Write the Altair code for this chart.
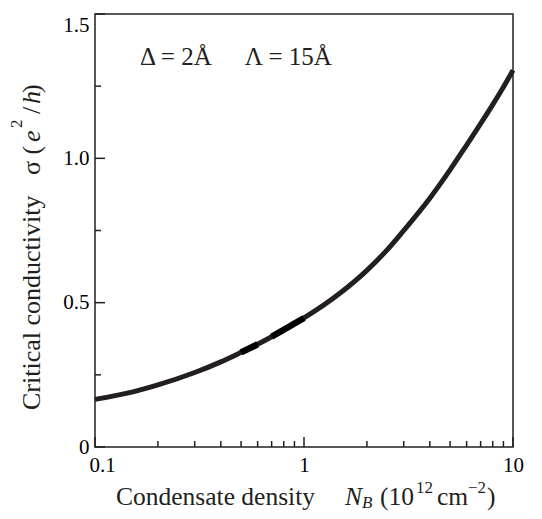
import altair as alt
import pandas as pd

# ---------------- data ----------------
density = [0.1, 0.15, 0.2, 0.3, 0.4, 0.5, 0.6, 0.7, 0.8, 1.0,
           1.5, 2.0, 2.5, 3.0, 4.0, 5.0, 6.0, 7.0, 8.0, 9.0, 10.0]
sigma = [0.165, 0.19, 0.215, 0.258, 0.295, 0.328, 0.356, 0.382, 0.406, 0.447,
         0.535, 0.612, 0.683, 0.75, 0.862, 0.96, 1.046, 1.12, 1.186, 1.247, 1.305]
thick_ranges = [(0.5, 0.6), (0.7, 1.0)]

x_major = [0.1, 1, 10]
x_minor = [0.2, 0.3, 0.4, 0.5, 0.6, 0.7, 0.8, 0.9, 2, 3, 4, 5, 6, 7, 8, 9]
y_major = [0, 0.5, 1.0, 1.5]
y_minor = [0.25, 0.75, 1.25]

annot_text = ["Δ = 2Å", "Λ = 15Å"]
annot_x = [0.164, 0.52]
annot_y = [1.323, 1.323]

# ---------------- styling ----------------
FONT = "Liberation Serif, Times New Roman, serif"
INK = "#231f20"
W, H = 418, 433

df = pd.DataFrame({"density": density, "sigma": sigma})
thick_rows = []
for i, (lo, hi) in enumerate(thick_ranges):
    for d, s in zip(density, sigma):
        if lo <= d <= hi:
            thick_rows.append({"density": d, "sigma": s, "seg": i})
df_thick = pd.DataFrame(thick_rows)

xs = alt.Scale(type="log", domain=[0.1, 10], nice=False)
ys = alt.Scale(domain=[0, 1.5], nice=False)

x_axis = alt.Axis(values=x_major, format="~g", title=None, ticks=False, domain=False,
                  grid=False, labelFont=FONT, labelFontSize=21, labelColor="black",
                  labelPadding=7, labelFlush=False, labelOverlap=False,
                  labelOffset={"condition": {"test": "datum.value < 0.5", "value": 7},
                               "value": 0})
y_axis = alt.Axis(values=y_major, title=None, ticks=False, domain=False, grid=False,
                  labelExpr="datum.value == 0 ? '0' : format(datum.value, '.1f')",
                  labelFont=FONT, labelFontSize=21, labelColor="black",
                  labelPadding=6, labelFlush=False, labelOverlap=False,
                  labelBaseline={"condition": {"test": "datum.value > 1.4", "value": "top"},
                                 "value": "middle"})

X = lambda f: alt.X(f, scale=xs, axis=x_axis)
Y = lambda f: alt.Y(f, scale=ys, axis=y_axis)

line = alt.Chart(df).mark_line(color=INK, strokeWidth=5, interpolate="monotone").encode(
    x=X("density:Q"), y=Y("sigma:Q"))
thick = alt.Chart(df_thick).mark_line(color="black", strokeWidth=6.5,
                                      interpolate="monotone").encode(
    x=X("density:Q"), y=Y("sigma:Q"), detail="seg:N")

def xticks(vals, length):
    return alt.Chart(pd.DataFrame({"density": vals})).mark_rule(
        color=INK, strokeWidth=1.5).encode(
        x=X("density:Q"), y=alt.value(H), y2=alt.value(H - length))

def yticks(vals, length):
    return alt.Chart(pd.DataFrame({"sigma": vals})).mark_rule(
        color=INK, strokeWidth=1.5).encode(
        y=Y("sigma:Q"), x=alt.value(0), x2=alt.value(length))

annot = alt.Chart(pd.DataFrame({"t": annot_text, "density": annot_x, "sigma": annot_y})).mark_text(
    font=FONT, fontSize=25, align="left", baseline="alphabetic", color=INK).encode(
    x=X("density:Q"), y=Y("sigma:Q"), text="t:N")

dummy = pd.DataFrame({"a": [0]})

def piece(text, px, py, size, italic=False, angle=0):
    kw = dict(text=text, font=FONT, fontSize=size, align="left", baseline="alphabetic",
              color=INK, fontStyle="italic" if italic else "normal")
    if angle:
        kw["angle"] = angle
    return alt.Chart(dummy).mark_text(**kw).encode(x=alt.value(px), y=alt.value(py))

# x-axis title: "Condensate density  N_B  (10^12 cm^-2)"
XB = 491
x_title = [
    piece("Condensate density", 21, XB, 25.5),
    piece("N", 250, XB, 25.5, italic=True),
    piece("B", 267, XB + 3, 17, italic=True),
    piece("(10", 285, XB, 25.5),
    piece("12", 321, XB - 12, 17),
    piece("cm", 342, XB, 25.5),
    piece("\u22122", 373, XB - 12, 17),
    piece(")", 392, XB, 25.5),
]

# y-axis title: "Critical conductivity  σ (e^2/h)" rotated
YB = -55
y_title = [
    piece("Critical conductivity", YB, 396, 26, angle=270),
    piece("\u03c3 (", YB, 161, 26, angle=270),
    piece("e", YB, 128, 26, italic=True, angle=270),
    piece("2", YB - 18, 114, 17, angle=270),
    piece("/", YB, 100, 26, angle=270),
    piece("h", YB, 90, 26, italic=True, angle=270),
    piece(")", YB, 79, 26, angle=270),
]

chart = alt.layer(
    line, thick,
    xticks(x_major, 10), xticks(x_minor, 6),
    yticks(y_major, 10), yticks(y_minor, 6),
    annot, *x_title, *y_title,
).properties(
    width=W, height=H,
    autosize=alt.AutoSizeParams(type="none"),
    padding={"left": 87, "top": 6, "right": 21, "bottom": 64},
).configure_view(stroke=INK, strokeWidth=1.5)

chart.save("out.html", embed_options={"renderer": "svg", "actions": False})
